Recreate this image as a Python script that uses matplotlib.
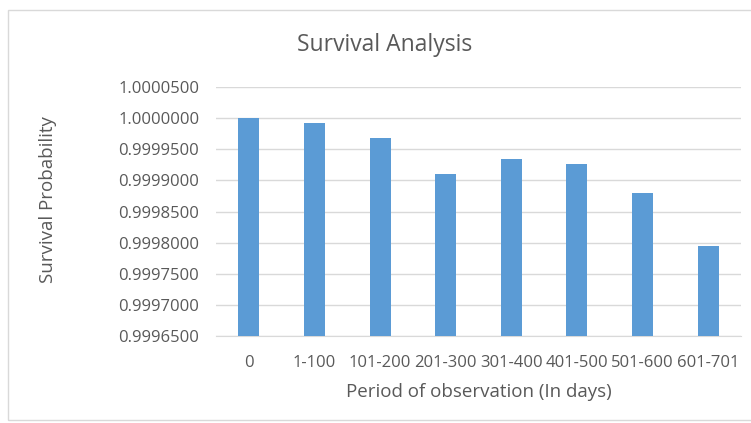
import matplotlib.pyplot as plt
from matplotlib.patches import Rectangle

# 数据
periods = ["0", "1-100", "101-200", "201-300", "301-400", "401-500", "501-600", "601-701"]
survival = [1.0000000, 0.9999933, 0.9999687, 0.9999099, 0.9999345, 0.9999265, 0.9998800, 0.9997944]
y_ticks = [0.99965, 0.99970, 0.99975, 0.99980, 0.99985, 0.99990, 0.99995, 1.00000, 1.00005]

text_color = "#595959"
plt.rcParams["font.family"] = ["Open Sans", "DejaVu Sans"]

fig = plt.figure(figsize=(7.51, 4.23), dpi=100)
ax = fig.add_axes([0.2876, 0.2064, 0.6991, 0.5872])

# 图表外框
fig.patches.append(Rectangle((8 / 751, 3 / 423), 1.2, 410 / 423, transform=fig.transFigure,
                             fill=False, edgecolor="#D9D9D9", linewidth=1))

x = range(len(periods))
base = y_ticks[0]
ax.bar(x, [v - base for v in survival], bottom=base, width=0.32, color="#5B9BD5", zorder=3)

ax.set_xlim(-0.5, len(periods) - 0.5)
ax.set_ylim(y_ticks[0], y_ticks[-1])
ax.set_yticks(y_ticks)
ax.set_yticklabels([f"{t:.7f}" for t in y_ticks])
ax.set_xticks(list(x))
ax.set_xticklabels(periods)
ax.tick_params(axis="both", length=0, labelsize=12, colors=text_color)
ax.tick_params(axis="y", pad=12)
ax.tick_params(axis="x", pad=14)

ax.grid(axis="y", color="#D9D9D9", linewidth=1, zorder=0)
for s in ["top", "right", "left"]:
    ax.spines[s].set_visible(False)
ax.spines["bottom"].set_color("#D9D9D9")

fig.text(385 / 751, 1 - 45 / 423, "Survival Analysis", ha="center", va="center",
         fontsize=16.5, color=text_color)
fig.text(48 / 751, 1 - 200 / 423, "Survival Probability", ha="center", va="center",
         rotation=90, fontsize=13.5, color=text_color)
fig.text(479 / 751, 1 - 392 / 423, "Period of observation (In days)", ha="center", va="center",
         fontsize=13.5, color=text_color)

fig.savefig("out.png", dpi=100)
